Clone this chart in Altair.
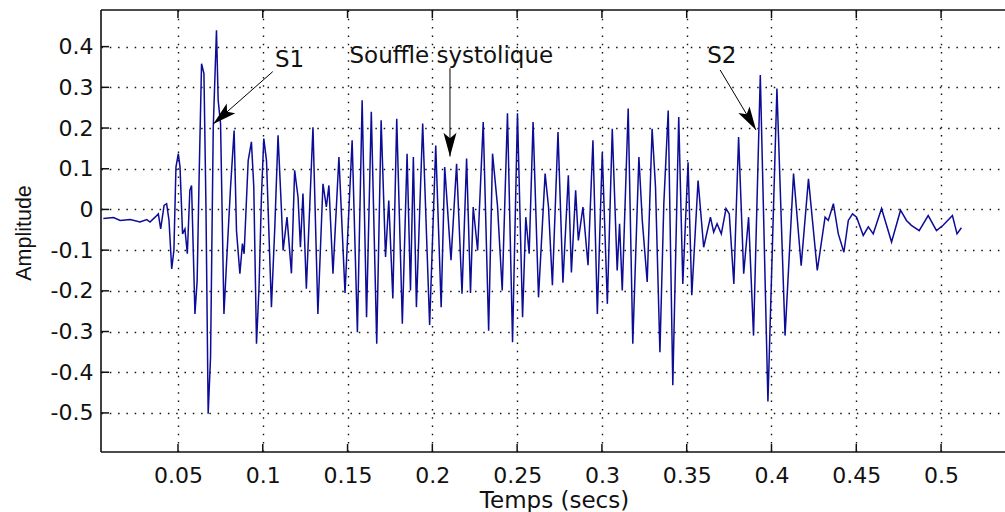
import math
import altair as alt
import pandas as pd

# ---- signal (successive extrema) ----
time_s = [
    0.0060, 0.0120, 0.0159, 0.0218, 0.0276, 0.0316, 0.0335, 0.0365, 0.0384, 0.0398,
    0.0418, 0.0433, 0.0447, 0.0463, 0.0476, 0.0488, 0.0502, 0.0512, 0.0527, 0.0541,
    0.0555, 0.0570, 0.0580, 0.0600, 0.0613, 0.0625, 0.0639, 0.0653, 0.0665, 0.0678,
    0.0692, 0.0708, 0.0727, 0.0737, 0.0751, 0.0771, 0.0786, 0.0810, 0.0831, 0.0845,
    0.0865, 0.0880, 0.0890, 0.0914, 0.0933, 0.0947, 0.0963, 0.0978, 0.0992, 0.1006,
    0.1022, 0.1051, 0.1071, 0.1090,
    0.1110, 0.1120, 0.1143, 0.1169, 0.1188, 0.1208, 0.1222, 0.1237, 0.1257, 0.1296,
    0.1325, 0.1355, 0.1375, 0.1390, 0.1414, 0.1449, 0.1485, 0.1527, 0.1558, 0.1586,
    0.1612, 0.1640, 0.1672, 0.1698, 0.1724, 0.1743, 0.1767, 0.1790, 0.1823, 0.1851,
    0.1871, 0.1888, 0.1906, 0.1943, 0.1984, 0.2020, 0.2052, 0.2073, 0.2110, 0.2143,
    0.2175,
    0.2202, 0.2225, 0.2241, 0.2267, 0.2300, 0.2332, 0.2355, 0.2384, 0.2412, 0.2443,
    0.2473, 0.2502, 0.2532, 0.2551, 0.2571, 0.2594, 0.2626, 0.2665, 0.2685, 0.2708,
    0.2741, 0.2770, 0.2802, 0.2820, 0.2845, 0.2861, 0.2888, 0.2918, 0.2947, 0.2973,
    0.3002, 0.3032, 0.3061, 0.3090, 0.3104, 0.3120, 0.3155, 0.3182, 0.3218,
    0.3238, 0.3267, 0.3296, 0.3316, 0.3342, 0.3365, 0.3391, 0.3418, 0.3453, 0.3477,
    0.3508, 0.3530, 0.3567, 0.3600, 0.3640, 0.3659, 0.3679, 0.3704, 0.3732, 0.3751,
    0.3778, 0.3806, 0.3836, 0.3865, 0.3894, 0.3934, 0.3979, 0.4032, 0.4080, 0.4130,
    0.4175, 0.4218, 0.4270,
    0.4316, 0.4335, 0.4365, 0.4394, 0.4427, 0.4453, 0.4478, 0.4502, 0.4541, 0.4571,
    0.4600, 0.4649, 0.4708, 0.4761, 0.4796, 0.4825, 0.4871, 0.4924, 0.4973, 0.5012,
    0.5067, 0.5094, 0.5120,
]
amplitude = [
    -0.022, -0.020, -0.027, -0.025, -0.031, -0.025, -0.031, -0.019, -0.011, -0.048,
    0.010, 0.014, -0.027, -0.146, -0.100, 0.104, 0.137, 0.104, -0.060, -0.048,
    -0.109, 0.047, 0.059, -0.257, -0.175, 0.088, 0.358, 0.334, 0.006, -0.502,
    -0.363, 0.202, 0.440, 0.268, 0.211, -0.257, -0.134, 0.055, 0.194, -0.052,
    -0.158, -0.084, -0.109, 0.120, 0.166, 0.055, -0.330, -0.191, 0.030, 0.174,
    0.120, -0.240, -0.043, 0.182,
    0.000, -0.101, -0.019, -0.157, 0.096, 0.030, -0.093, 0.039, -0.195, 0.202,
    -0.257, 0.063, 0.006, 0.059, -0.158, 0.129, -0.205, 0.170, -0.302, 0.268,
    -0.265, 0.240, -0.330, 0.219, -0.117, 0.022, -0.219, 0.223, -0.281, 0.137,
    -0.199, 0.129, -0.240, 0.211, -0.284, 0.157, -0.240, 0.104, -0.125, 0.112,
    -0.207,
    0.125, -0.205, 0.006, -0.101, 0.215, -0.298, 0.137, 0.010, -0.199, 0.236,
    -0.326, 0.236, -0.265, -0.019, -0.109, 0.215, -0.216, 0.088, 0.006, -0.186,
    0.190, -0.180, 0.084, -0.155, 0.047, -0.076, 0.006, -0.137, 0.170, -0.257,
    0.140, -0.232, 0.198, -0.150, -0.035, -0.199, 0.248, -0.330, 0.129,
    -0.027, -0.178, 0.198, 0.055, -0.351, 0.014, 0.243, -0.432, 0.227, -0.183,
    0.116, -0.211, 0.071, -0.093, -0.019, -0.056, -0.035, -0.060, 0.002, -0.011,
    -0.183, 0.178, -0.158, -0.019, -0.310, 0.330, -0.472, 0.297, -0.310, 0.088,
    -0.138, 0.075, -0.150,
    -0.019, -0.027, 0.014, -0.060, -0.105, -0.027, -0.011, -0.019, -0.064, -0.043,
    -0.060, 0.002, -0.080, -0.002, -0.027, -0.039, -0.052, -0.015, -0.052, -0.039,
    -0.015, -0.060, -0.045,
]

x_tick_values = [0.05, 0.1, 0.15, 0.2, 0.25, 0.3, 0.35, 0.4, 0.45, 0.5]
y_tick_values = [-0.5, -0.4, -0.3, -0.2, -0.1, 0, 0.1, 0.2, 0.3, 0.4]

annotation_labels = ["S1", "Souffle systolique", "S2"]
label_time = [0.1158, 0.2112, 0.3707]
label_amp = [0.3509, 0.3592, 0.3604]
arrow_from_time = [0.1059, 0.2104, 0.3697]
arrow_from_amp = [0.3386, 0.3470, 0.3428]
arrow_to_time = [0.0708, 0.2104, 0.3909]
arrow_to_amp = [0.210, 0.130, 0.195]

# ---- layout ----
W, H = 904, 442
X_DOMAIN = [0.0046, 0.5377]
Y_DOMAIN = [-0.596, 0.49]
FONT = "DejaVu Sans"
INK = "#111111"
LINE = "#0c0c96"

px_x = W / (X_DOMAIN[1] - X_DOMAIN[0])
px_y = H / (Y_DOMAIN[1] - Y_DOMAIN[0])
angles = []
for t1, a1, t2, a2 in zip(arrow_from_time, arrow_from_amp, arrow_to_time, arrow_to_amp):
    dx = (t2 - t1) * px_x
    dy = -(a2 - a1) * px_y
    angles.append(math.degrees(math.atan2(-dx, dy)) % 360)

# every layer shares the same field names "t" and "a"
sig = pd.DataFrame({"t": time_s, "a": amplitude})
ann_text = pd.DataFrame({"label": annotation_labels, "t": label_time, "a": label_amp})
ann_arrow = pd.DataFrame({
    "t": arrow_from_time, "a": arrow_from_amp,
    "t2": arrow_to_time, "a2": arrow_to_amp,
})
ann_head = pd.DataFrame({"t": arrow_to_time, "a": arrow_to_amp, "ang": angles})
xt = pd.DataFrame({"t": x_tick_values, "a": [Y_DOMAIN[0]] * len(x_tick_values)})
yt = pd.DataFrame({"a": y_tick_values, "t": [X_DOMAIN[0]] * len(y_tick_values)})

xs = alt.Scale(domain=X_DOMAIN, nice=False, zero=False)
ys = alt.Scale(domain=Y_DOMAIN, nice=False, zero=False)

x_axis = alt.Axis(
    values=x_tick_values, format="~g", grid=True, gridColor=INK, gridDash=[1.5, 6.8],
    gridWidth=1.4, gridOpacity=1, ticks=False, tickSize=0, domain=False,
    labelFont=FONT, labelFontSize=22, labelColor=INK, labelPadding=13,
    labelFlush=False, labelOverlap=False,
    title="Temps (secs)", titleFont=FONT, titleFontSize=23, titleFontWeight="normal",
    titleColor=INK, titleX=453, titleY=55, titleBaseline="alphabetic", titleAlign="center",
)
y_axis = alt.Axis(
    values=y_tick_values,
    labelExpr="(datum.value < 0 ? '-' : '') + format(abs(datum.value), '~g')",
    grid=True, gridColor=INK, gridDash=[1.5, 6.8], gridWidth=1.4, gridOpacity=1,
    ticks=False, tickSize=0, domain=False,
    labelFont=FONT, labelFontSize=22, labelColor=INK, labelPadding=8,
    labelFlush=False, labelOverlap=False,
    title="Amplitude", titleFont="Liberation Sans", titleFontSize=21.5,
    titleFontWeight="normal", titleColor=INK, titleAngle=270, titleX=-70.5,
    titleY=222.5, titleBaseline="alphabetic", titleAlign="center",
)

X = alt.X("t:Q", scale=xs, axis=x_axis)
Y = alt.Y("a:Q", scale=ys, axis=y_axis)

signal = alt.Chart(sig).mark_line(
    color=LINE, strokeWidth=1.5, clip=True
).encode(x=X, y=Y)

tick_len = 8
bottom_ticks = alt.Chart(xt).mark_rule(color=INK, strokeWidth=1.5).encode(
    x=X, y=alt.value(H), y2=alt.value(H - tick_len))
top_ticks = alt.Chart(xt).mark_rule(color=INK, strokeWidth=1.5).encode(
    x=X, y=alt.value(0), y2=alt.value(tick_len))
left_ticks = alt.Chart(yt).mark_rule(color=INK, strokeWidth=1.5).encode(
    y=Y, x=alt.value(0), x2=alt.value(tick_len))

one = pd.DataFrame({"k": [0]})
border_top = alt.Chart(one).mark_rule(color=INK, strokeWidth=1.6).encode(
    x=alt.value(0), x2=alt.value(W), y=alt.value(0))
border_bottom = alt.Chart(one).mark_rule(color=INK, strokeWidth=1.6).encode(
    x=alt.value(0), x2=alt.value(W), y=alt.value(H))
border_left = alt.Chart(one).mark_rule(color=INK, strokeWidth=1.6).encode(
    x=alt.value(0), y=alt.value(0), y2=alt.value(H))

shafts = alt.Chart(ann_arrow).mark_rule(color="black", strokeWidth=1).encode(
    x=X, y=Y, x2="t2:Q", y2="a2:Q")
heads = alt.Chart(ann_head).mark_point(
    shape="M0,0L-0.55,-2L0,-1.55L0.55,-2Z", filled=True, color="black",
    opacity=1, size=560, strokeWidth=0,
).encode(x=X, y=Y, angle=alt.Angle("ang:Q", scale=None))
labels = alt.Chart(ann_text).mark_text(
    font=FONT, fontSize=23, color=INK, align="center", baseline="alphabetic"
).encode(x=X, y=Y, text="label:N")

chart = alt.layer(
    signal, bottom_ticks, top_ticks, left_ticks,
    border_top, border_bottom, border_left, shafts, heads, labels,
).properties(
    width=W, height=H,
    padding={"left": 101, "top": 10, "right": 0, "bottom": 60},
    autosize=alt.AutoSizeParams(type="none"),
    background="white",
).configure_view(stroke="transparent")

chart.save("out.html", embed_options={"renderer": "svg", "actions": False})
